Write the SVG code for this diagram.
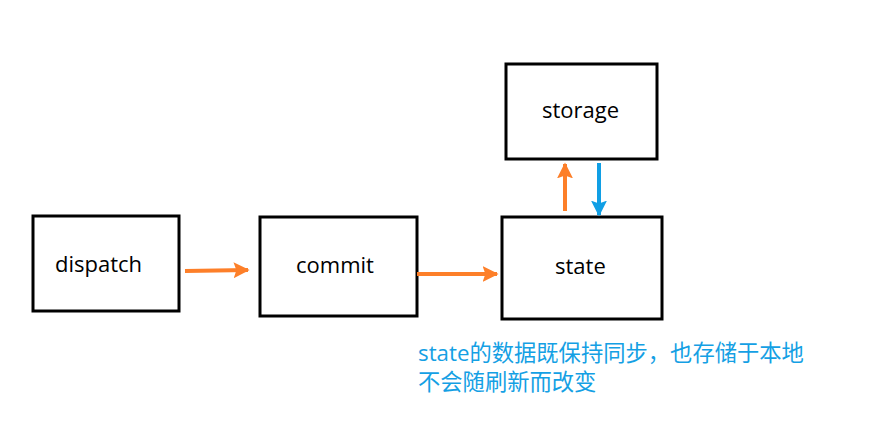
<svg xmlns="http://www.w3.org/2000/svg" width="880" height="447" viewBox="0 0 880 447">
<style>
.box{fill:#fff;stroke:#000;stroke-width:3}
.lbl{font-family:"Open Sans","Noto Sans","Noto Sans CJK SC",sans-serif;font-size:22px;fill:#000}
.note{font-family:"Open Sans","Noto Sans CJK SC",sans-serif;font-size:22.3px;fill:#14a0e4}
.or{stroke:#fd7f29;stroke-width:4;fill:none}
.bl{stroke:#109fe5;stroke-width:4;fill:none}
</style>
<defs>
<marker id="ao" markerWidth="4" markerHeight="4" refX="3.6" refY="2" orient="auto" markerUnits="strokeWidth"><path d="M0,0 L4,2 L0,4 L0.7,2 Z" fill="#fd7f29"/></marker>
<marker id="ab" markerWidth="4" markerHeight="4" refX="3.6" refY="2" orient="auto" markerUnits="strokeWidth"><path d="M0,0 L4,2 L0,4 L0.7,2 Z" fill="#109fe5"/></marker>
</defs>
<rect width="880" height="447" fill="#fff"/>
<g id="dispatch"><rect class="box" x="33" y="216" width="146" height="95"/><text class="lbl" x="55" y="272">dispatch</text></g>
<g id="commit"><rect class="box" x="260" y="217" width="157" height="99"/><text class="lbl" x="296" y="273">commit</text></g>
<g id="state"><rect class="box" x="502" y="217" width="160" height="102"/><text class="lbl" x="555" y="274">state</text></g>
<g id="storage"><rect class="box" x="506" y="64" width="151" height="95"/><text class="lbl" x="542" y="118">storage</text></g>
<g id="connectors">
<line class="or" x1="185" y1="271" x2="248" y2="270" marker-end="url(#ao)"/>
<line class="or" x1="417" y1="274" x2="497" y2="274" marker-end="url(#ao)"/>
<line class="or" x1="565" y1="211" x2="565" y2="164" marker-end="url(#ao)"/>
<line class="bl" x1="599" y1="163" x2="599" y2="215" marker-end="url(#ab)"/>
</g>
<g id="note"><text class="note" x="418" y="361">state的数据既保持同步，也存储于本地</text><text class="note" x="418" y="390">不会随刷新而改变</text></g>
</svg>
